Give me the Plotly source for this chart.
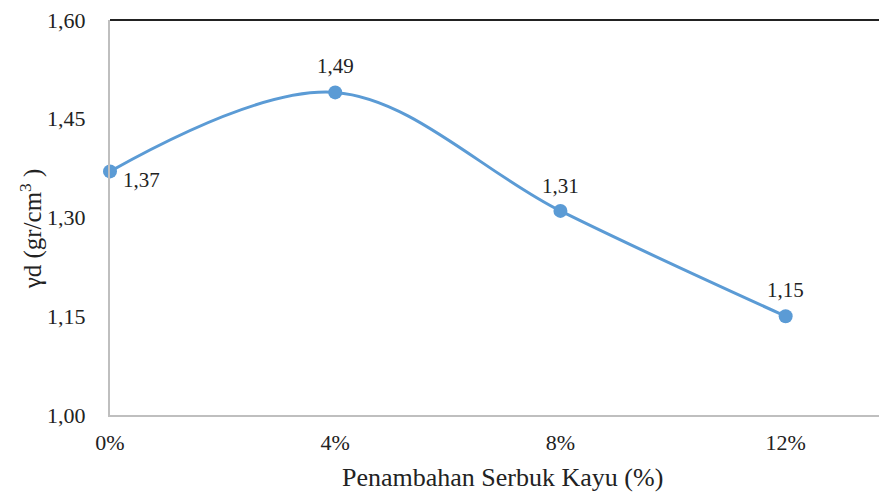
import plotly.graph_objects as go

# sawdust addition (%) and dry density values
sawdust_pct = [0, 4, 8, 12]
sawdust_labels = ["0%", "4%", "8%", "12%"]
dry_density = [1.37, 1.49, 1.31, 1.15]
y_ticks = [1.00, 1.15, 1.30, 1.45, 1.60]

# label offsets (px) for each point: first label sits to the lower right
label_dx = [31, 0, 0, 0]
label_dy = [-9, 26, 25, 26]

font_family = "Liberation Serif, Times New Roman, serif"
text_color = "#222222"
line_blue = "#5B9BD5"

fig = go.Figure()

fig.add_trace(
    go.Scatter(
        x=sawdust_pct,
        y=dry_density,
        mode="lines+markers",
        line=dict(color=line_blue, width=3, shape="spline", smoothing=1),
        marker=dict(color=line_blue, size=14),
        cliponaxis=False,
        showlegend=False,
    )
)

# data labels
for x, y, dx, dy in zip(sawdust_pct, dry_density, label_dx, label_dy):
    fig.add_annotation(
        x=x, y=y, text=f"{y:.2f}".replace(".", ","),
        xshift=dx, yshift=dy, showarrow=False,
        xanchor="center", yanchor="middle",
        font=dict(family=font_family, size=21, color=text_color),
    )

# black border along the top of the plot area
fig.add_shape(
    type="line", xref="paper", yref="paper",
    x0=0, x1=1, y0=1, y1=1, layer="above",
    line=dict(color="#222222", width=2),
)

fig.update_xaxes(
    range=[0, 13.8],
    tickvals=sawdust_pct,
    ticktext=sawdust_labels,
    showgrid=False,
    zeroline=False,
    showline=True,
    linecolor="#BFBFBF",
    linewidth=2,
    ticks="",
    ticklabelstandoff=7,
    ticklabeloverflow="allow",
    tickfont=dict(family=font_family, size=22, color=text_color),
)
fig.update_yaxes(
    range=[1.0, 1.6],
    tickvals=y_ticks,
    tickformat=".2f",
    showgrid=False,
    zeroline=False,
    showline=True,
    linecolor="#BFBFBF",
    linewidth=2,
    ticks="",
    ticklabelstandoff=18,
    ticklabeloverflow="allow",
    tickfont=dict(family=font_family, size=22, color=text_color),
)

fig.add_annotation(
    text="Penambahan Serbuk Kayu (%)",
    xref="paper", yref="paper", x=0.505, y=0, yshift=-62,
    showarrow=False, xanchor="center", yanchor="middle",
    font=dict(family=font_family, size=26, color=text_color),
)
fig.add_annotation(
    text="γd (gr/cm<sup>3</sup> )",
    xref="paper", yref="paper", x=0, xshift=-79, y=0.47,
    textangle=-90, showarrow=False, xanchor="center", yanchor="middle",
    font=dict(family=font_family, size=25, color=text_color),
)

# page body has an 8px margin, so the figure is sized to fill the rest
fig.update_layout(
    width=879,
    height=484,
    margin=dict(l=102, r=0, t=12, b=77),
    paper_bgcolor="white",
    plot_bgcolor="white",
    separators=",.",
)

fig.write_html("out.html")
